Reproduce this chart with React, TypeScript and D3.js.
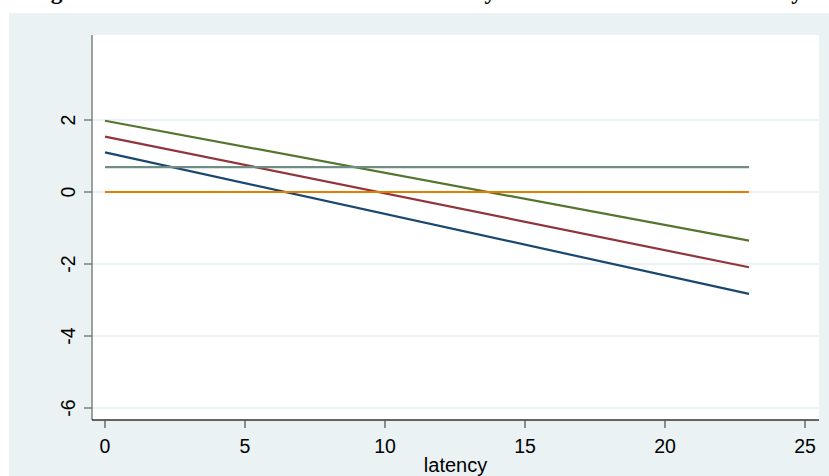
import React from "react";
import * as d3 from "d3";

// Fitted lines over latency (value at latency 0 and at latency 23)
const seriesNames = ["navy", "maroon", "forest", "teal", "orange"];
const seriesColors = ["#1a476f", "#90353b", "#55752f", "#6e8e84", "#e37e00"];
const latencyRange = [0, 23];
const startValues = [1.1, 1.54, 1.98, 0.69, 0];
const endValues = [-2.83, -2.09, -1.35, 0.69, 0];

const xTicks = [0, 5, 10, 15, 20, 25];
const yTicks = [2, 0, -2, -4, -6];
const xTitle = "latency";
const title = "Figure 6: Estimated Effects on the Outcome by Treatment Status and Latency";

const W = 829;
const H = 476;
const plot = { left: 92, right: 819, top: 35, bottom: 420 };

export default function App() {
  const x = d3.scaleLinear().domain([0, 25]).range([105, 805]);
  const y = d3.scaleLinear().domain([0, 2]).range([192, 120]);
  const line = d3
    .line<[number, number]>()
    .x((d) => x(d[0]))
    .y((d) => y(d[1]));

  return (
    <svg
      width={W}
      height={H}
      style={{ position: "fixed", left: 0, top: 0, display: "block" }}
    >
      <rect x={0} y={0} width={W} height={H} fill="#ffffff" />
      <text
        x={30}
        y={-1}
        fontFamily="'Liberation Serif', 'Times New Roman', serif"
        fontWeight="bold"
        fontSize={23.3}
        fill="#000"
      >
        {title}
      </text>
      <rect x={9} y={13} width={W - 9} height={H - 13} fill="#eaf2f3" />
      <rect
        x={plot.left}
        y={plot.top}
        width={plot.right - plot.left}
        height={plot.bottom - plot.top}
        fill="#ffffff"
      />
      {yTicks.map((t) => (
        <line
          key={"g" + t}
          x1={plot.left}
          x2={plot.right}
          y1={y(t)}
          y2={y(t)}
          stroke="#eaf2f3"
          strokeWidth={2}
        />
      ))}
      {seriesNames.map((name, i) => (
        <path
          key={name}
          d={
            line([
              [latencyRange[0], startValues[i]],
              [latencyRange[1], endValues[i]],
            ]) || ""
          }
          fill="none"
          stroke={seriesColors[i]}
          strokeWidth={2.2}
        />
      ))}
      {/* y axis */}
      <line
        x1={plot.left}
        x2={plot.left}
        y1={plot.top}
        y2={plot.bottom}
        stroke="#6e6e6e"
        strokeWidth={1.3}
      />
      {yTicks.map((t) => (
        <g key={"yt" + t}>
          <line
            x1={plot.left - 8}
            x2={plot.left}
            y1={y(t)}
            y2={y(t)}
            stroke="#6e6e6e"
            strokeWidth={1.3}
          />
          <text
            transform={`translate(75,${y(t)}) rotate(-90)`}
            textAnchor="middle"
            fontFamily="'Liberation Sans', Arial, sans-serif"
            fontSize={19.5}
            fill="#000"
          >
            {t}
          </text>
        </g>
      ))}
      {/* x axis */}
      <line
        x1={plot.left}
        x2={plot.right}
        y1={plot.bottom}
        y2={plot.bottom}
        stroke="#333333"
        strokeWidth={1.3}
      />
      {xTicks.map((t) => (
        <g key={"xt" + t}>
          <line
            x1={x(t)}
            x2={x(t)}
            y1={plot.bottom}
            y2={plot.bottom + 8}
            stroke="#555555"
            strokeWidth={1.3}
          />
          <text
            x={x(t)}
            y={452.5}
            textAnchor="middle"
            fontFamily="'Liberation Sans', Arial, sans-serif"
            fontSize={19.5}
            fill="#000"
          >
            {t}
          </text>
        </g>
      ))}
      <text
        x={(plot.left + plot.right) / 2}
        y={471.5}
        textAnchor="middle"
        fontFamily="'Liberation Sans', Arial, sans-serif"
        fontSize={20}
        fill="#000"
      >
        {xTitle}
      </text>
    </svg>
  );
}
